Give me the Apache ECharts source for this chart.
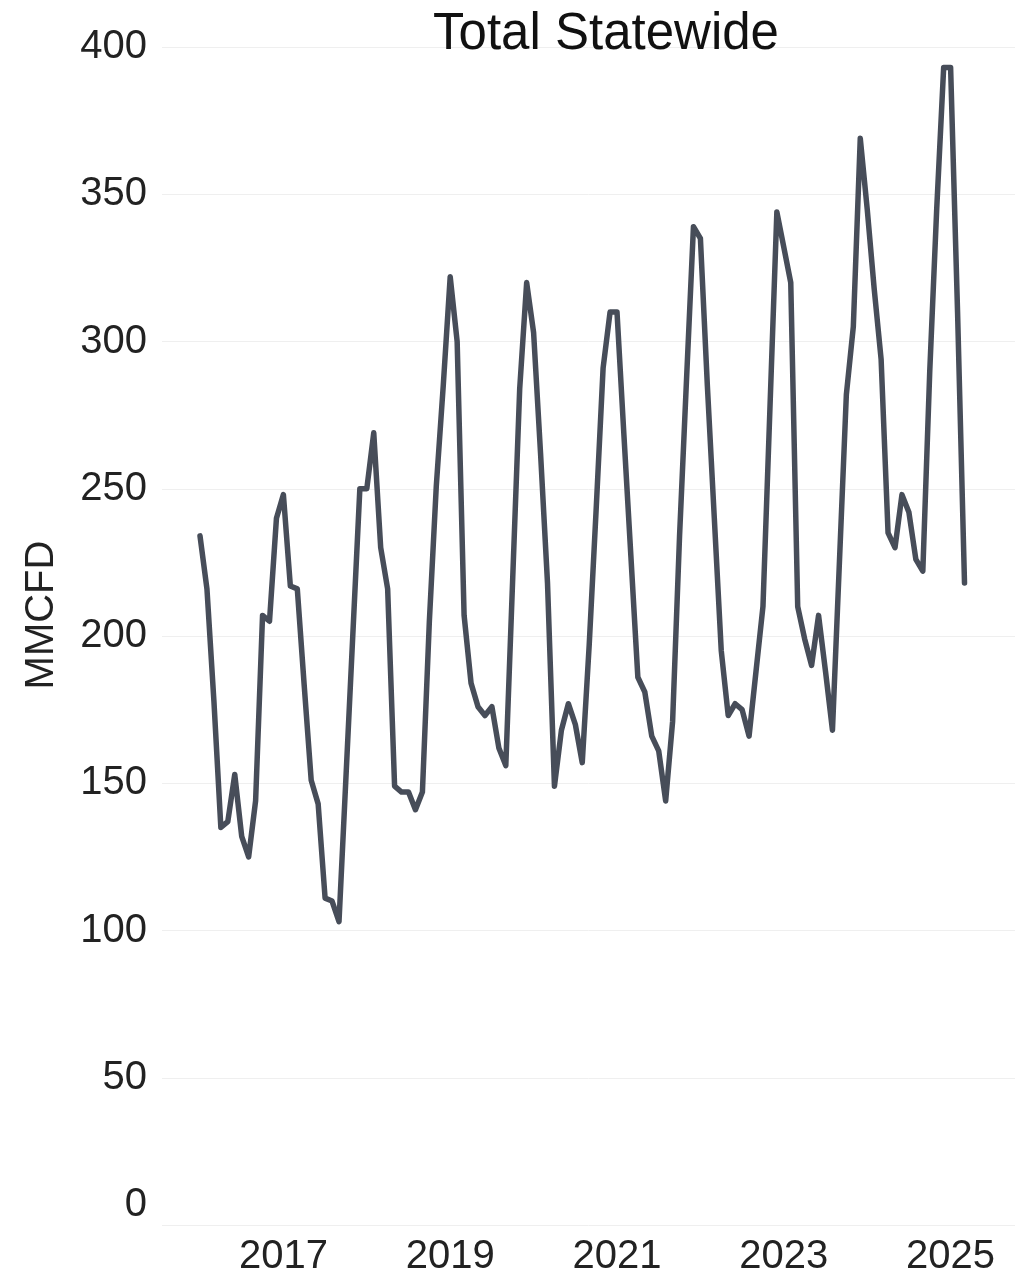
<!DOCTYPE html>
<html>
<head>
<meta charset="utf-8">
<script src="https://cdn.jsdelivr.net/npm/echarts@6/dist/echarts.min.js"></script>
<style>
html,body{margin:0;padding:0;background:#ffffff;}
#chart{width:1025px;height:1279px;}
</style>
</head>
<body>
<div id="chart"></div>
<script>
// ---- data ----
const chartTitle = 'Total Statewide';
const yAxisTitle = 'MMCFD';
const startYear = 2016;          // first point: Jan 2016, monthly
const yearTickLabels = [2017, 2019, 2021, 2023, 2025];
const yTickValues = [0, 50, 100, 150, 200, 250, 300, 350, 400];

const values2016 = [234, 216, 178, 135, 137, 153, 132, 125, 144, 207, 205, 240];
const values2017 = [248, 217, 216, 183, 151, 143, 111, 110, 103, 152, 201, 250];
const values2018 = [250, 269, 230, 216, 149, 147, 147, 141, 147, 205, 251, 285];
const values2019 = [322, 300, 207, 184, 176, 173, 176, 162, 156, 220, 284, 320];
const values2020 = [303, 262, 218, 149, 168, 177, 170, 157, 197, 243, 291, 310];
const values2021 = [310, 268, 227, 186, 181, 166, 161, 144, 171, 234, 287, 339];
const values2022 = [335, 285, 240, 195, 173, 177, 175, 166, 188, 210, 277, 344];
const values2023 = [332, 320, 210, 199, 190, 207, 188, 168, 225, 282, 305, 369];
const values2024 = [345, 318, 294, 235, 230, 248, 242, 226, 222, 290, 345, 393];
const values2025 = [393, 310, 218];

const values = [].concat(values2016, values2017, values2018, values2019, values2020,
                         values2021, values2022, values2023, values2024, values2025);

// month position on a decimal-year scale
const seriesData = values.map((v, i) => [startYear + i / 12, v]);

const FONT = '"Liberation Sans", Arial, Helvetica, sans-serif';
const TEXT = '#222222';

const chart = echarts.init(document.getElementById('chart'), null, {renderer: 'canvas'});
chart.setOption({
  animation: false,
  backgroundColor: '#ffffff',
  title: {
    text: chartTitle,
    left: 601,
    top: 4,
    textAlign: 'center',
    textStyle: {fontFamily: FONT, fontSize: 51, fontWeight: 'normal', color: '#111111'}
  },
  grid: {left: 162, right: 10, top: 47, bottom: 54, containLabel: false},
  xAxis: {
    type: 'value',
    min: 2015.5444,
    max: 2025.772,
    axisLine: {show: false},
    axisTick: {show: false},
    splitLine: {show: false},
    axisLabel: {
      customValues: yearTickLabels,
      formatter: v => String(Math.round(v)),
      fontFamily: FONT, fontSize: 40, color: TEXT, margin: 12
    }
  },
  yAxis: {
    type: 'value',
    min: yTickValues[0],
    max: yTickValues[yTickValues.length - 1],
    interval: 50,
    name: yAxisTitle,
    nameLocation: 'middle',
    nameGap: 100,
    nameTextStyle: {fontFamily: FONT, fontSize: 40, color: TEXT, padding: [0, 0, 0, 42]},
    axisLine: {show: false},
    axisTick: {show: false},
    axisLabel: {fontFamily: FONT, fontSize: 40, color: TEXT, margin: 15, verticalAlignMinLabel: 'bottom'},
    splitLine: {show: true, lineStyle: {color: '#efefef', width: 1}}
  },
  series: [{
    type: 'line',
    data: seriesData,
    showSymbol: false,
    smooth: false,
    lineStyle: {color: '#474d59', width: 5.5, cap: 'round', join: 'round'},
    itemStyle: {color: '#474d59'}
  }]
});
</script>
</body>
</html>
